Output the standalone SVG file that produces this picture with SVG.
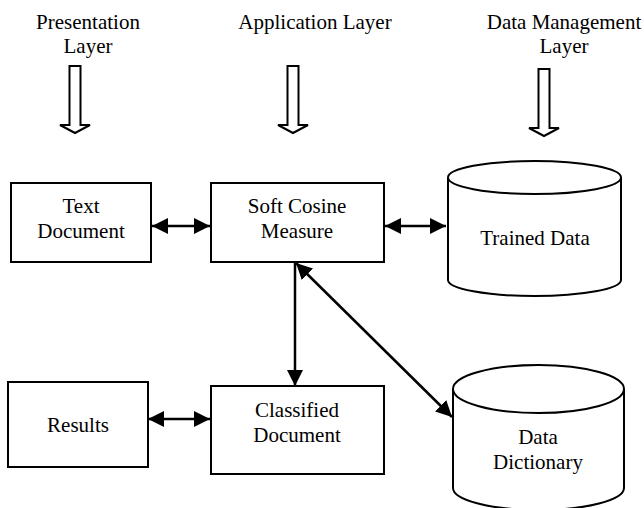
<svg xmlns="http://www.w3.org/2000/svg" width="644" height="508" viewBox="0 0 644 508">
<defs>
<style>
text{font-family:"Liberation Serif","Times New Roman",serif;font-size:21px;fill:#000;text-anchor:middle}
.box{fill:#fff;stroke:#000;stroke-width:2}
.blk{fill:#fff;stroke:#000;stroke-width:2;stroke-linejoin:miter}
.con{stroke:#000;stroke-width:2.5;fill:none}
</style>
<marker id="ah" viewBox="0 0 16 16" refX="16" refY="8" markerWidth="16" markerHeight="16" markerUnits="userSpaceOnUse" orient="auto-start-reverse">
<path d="M0,0 L16,8 L0,16 Z" fill="#000"/>
</marker>
</defs>
<rect width="644" height="508" fill="#fff"/>
<g id="layer-labels">
<text x="88" y="29">Presentation</text>
<text x="88" y="53">Layer</text>
<text x="315" y="29">Application Layer</text>
<text x="564" y="29">Data Management</text>
<text x="564" y="53">Layer</text>
</g>
<g id="layer-arrows">
<path class="blk" d="M69.5,66 H80.5 V125 H90 L75,133 L60,125 H69.5 Z"/>
<path class="blk" d="M287.5,66 H298.5 V125 H308 L293,133 L278,125 H287.5 Z"/>
<path class="blk" d="M538.5,69 H549.5 V128 H559 L544,136 L529,128 H538.5 Z"/>
</g>
<g id="connectors">
<line class="con" x1="152" y1="226" x2="210" y2="226" marker-start="url(#ah)" marker-end="url(#ah)"/>
<line class="con" x1="385" y1="226" x2="446" y2="226" marker-start="url(#ah)" marker-end="url(#ah)"/>
<line class="con" x1="148" y1="419" x2="210" y2="419" marker-start="url(#ah)" marker-end="url(#ah)"/>
<line class="con" x1="295" y1="263" x2="295" y2="386" marker-end="url(#ah)"/>
<line class="con" x1="296" y1="263" x2="452" y2="417" marker-start="url(#ah)" marker-end="url(#ah)"/>
</g>
<g id="text-document">
<rect class="box" x="11" y="183" width="140" height="79"/>
<text x="81" y="213">Text</text>
<text x="81" y="238">Document</text>
</g>
<g id="soft-cosine-measure">
<rect class="box" x="211" y="183" width="173" height="79"/>
<text x="297" y="213">Soft Cosine</text>
<text x="297" y="238">Measure</text>
</g>
<g id="trained-data">
<path class="box" d="M448,177.5 V280 A86.5,16 0 0 0 621,280 V177.5"/>
<ellipse class="box" cx="534.5" cy="177.5" rx="86.5" ry="16.5"/>
<text x="535" y="245">Trained Data</text>
</g>
<g id="results">
<rect class="box" x="8" y="382" width="140" height="85"/>
<text x="78" y="432">Results</text>
</g>
<g id="classified-document">
<rect class="box" x="211" y="386" width="173" height="88"/>
<text x="297" y="417">Classified</text>
<text x="297" y="442">Document</text>
</g>
<g id="data-dictionary">
<path class="box" d="M453,389 V488 A85.5,22 0 0 0 624,488 V389"/>
<ellipse class="box" cx="538.5" cy="389" rx="85.5" ry="24"/>
<text x="538" y="444">Data</text>
<text x="538" y="469">Dictionary</text>
</g>
</svg>
